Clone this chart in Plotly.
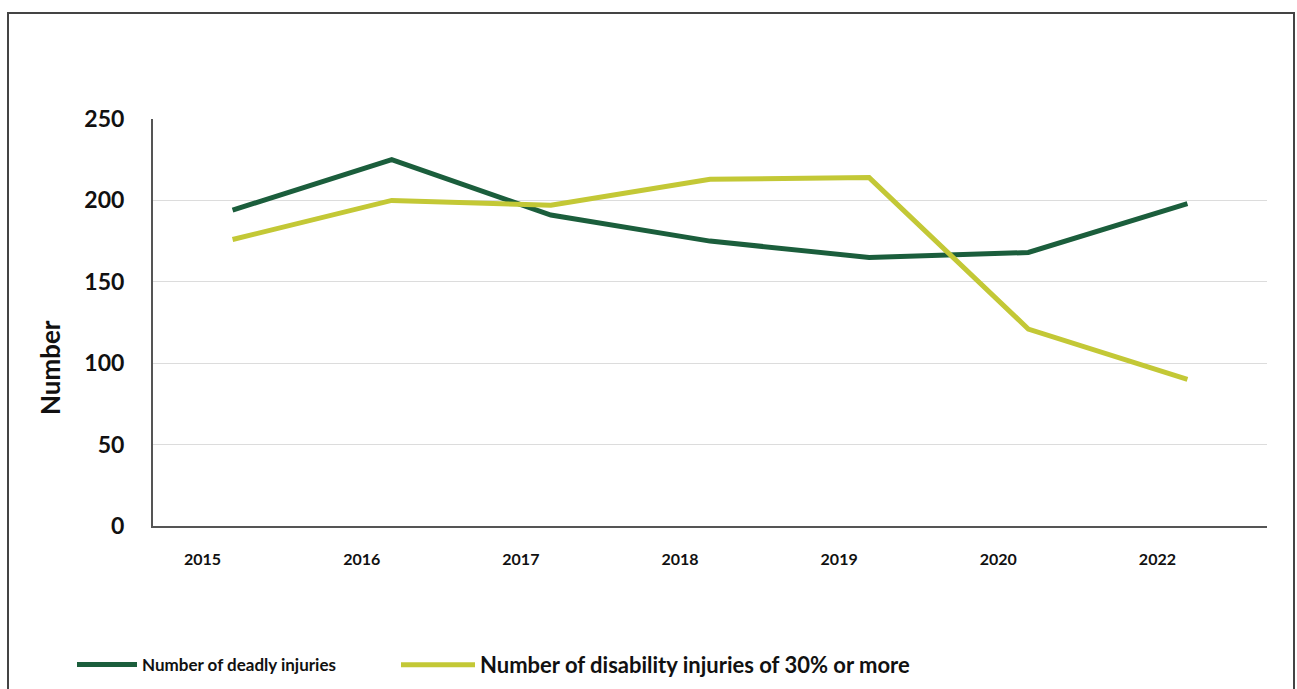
import plotly.graph_objects as go

years = ["2015", "2016", "2017", "2018", "2019", "2020", "2022"]
deadly = [194, 225, 191, 175, 165, 168, 198]
disability = [176, 200, 197, 213, 214, 121, 90]
y_ticks = [0, 50, 100, 150, 200, 250]

series_names = ["Number of deadly injuries", "Number of disability injuries of 30% or more"]
colors = ["#1b5e3c", "#c3c836"]

W, H = 1297, 689
ml, mr, mt, mb = 153, 30, 119, 163
pw, ph = W - ml - mr, H - mt - mb

font_family = "Lato, 'Open Sans', sans-serif"

fig = go.Figure()
for name, vals, col, lg in zip(series_names, [deadly, disability], colors, ["legend", "legend2"]):
    fig.add_trace(go.Scatter(x=years, y=vals, name=name, mode="lines",
                             line=dict(color=col, width=5), legend=lg))

fig.update_layout(
    width=W, height=H,
    margin=dict(l=ml, r=mr, t=mt, b=mb, autoexpand=False),
    paper_bgcolor="white", plot_bgcolor="white",
    font=dict(family=font_family, color="#111111"),
    showlegend=True,
    legend=dict(orientation="h", x=(72 - ml) / pw, y=(mt + ph - 665) / ph,
                xanchor="left", yanchor="middle", bgcolor="rgba(0,0,0,0)",
                font=dict(size=17, family=font_family, color="#111111", weight="bold"),
                itemwidth=60),
    legend2=dict(orientation="h", x=(396 - ml) / pw, y=(mt + ph - 665) / ph,
                 xanchor="left", yanchor="middle", bgcolor="rgba(0,0,0,0)",
                 font=dict(size=22, family=font_family, color="#111111", weight="bold"),
                 itemwidth=74),
    xaxis=dict(type="category", range=[-0.5, 6.5], showgrid=False,
               showline=True, linecolor="#555555", linewidth=2,
               ticks="", tickfont=dict(size=16, weight="bold", color="#111111"),
               ticklabelstandoff=18, ticklabelshift=-30, zeroline=False),
    yaxis=dict(range=[0, 250], tickvals=y_ticks, showgrid=True, gridcolor="#dcdcdc",
               gridwidth=1, showline=True, linecolor="#555555", linewidth=2,
               ticks="", tickfont=dict(size=23, weight="bold", color="#111111"),
               ticklabelstandoff=22, zeroline=False),
    annotations=[dict(text="Number", xref="paper", yref="paper",
                      x=(50 - ml) / pw, y=(mt + ph - 368) / ph,
                      xanchor="center", yanchor="middle", textangle=-90,
                      showarrow=False,
                      font=dict(size=26, weight="bold", color="#111111"))],
    shapes=[dict(type="rect", xref="paper", yref="paper",
                 x0=(8 - ml) / pw, x1=(1294 - ml) / pw,
                 y0=(mt + ph - 700) / ph, y1=(mt + ph - 13) / ph,
                 line=dict(color="#444444", width=2), fillcolor="rgba(0,0,0,0)",
                 layer="below")],
)

fig.write_html("out.html")
